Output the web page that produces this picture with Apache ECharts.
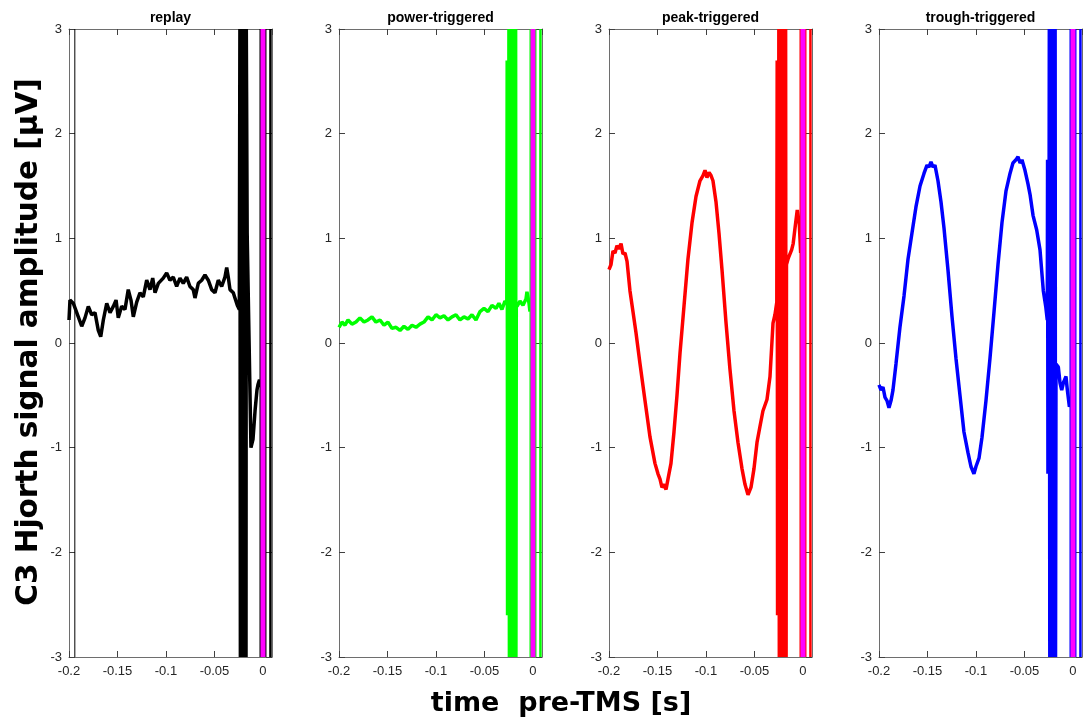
<!DOCTYPE html>
<html><head><meta charset="utf-8">
<script src="https://cdn.jsdelivr.net/npm/echarts@6/dist/echarts.min.js"></script>
<style>html,body{margin:0;padding:0;background:#fff}#c{width:1087px;height:724px}</style>
</head><body><div id="c"></div>
<script>
// ---------- data ----------
const panelTitles = ['replay', 'power-triggered', 'peak-triggered', 'trough-triggered'];
const traceColors = ['#000000', '#00ff00', '#ff0000', '#0000ff'];
const pulseColor = '#ff00ff';
const xTicks = [-0.2, -0.15, -0.1, -0.05, 0];
const yTicks = [-3, -2, -1, 0, 1, 2, 3];
const xMin = -0.2, xMax = 0.0093, yMin = -3, yMax = 3;
const pulseTime = 0;          // TMS pulse marker
const lateArtifactTime = 0.0077;
const replayMarkerTime = -0.194;

// replay (black); artifact samples run off the +-3 scale and are shown at the limits
const replayPre = [[-0.2000,0.22],[-0.1990,0.41],[-0.1956,0.38],[-0.1904,0.25],[-0.1869,0.16],[-0.1835,0.24],[-0.1801,0.35],[-0.1766,0.27],[-0.1732,0.29],[-0.1698,0.12],[-0.1673,0.06],[-0.1646,0.22],[-0.1611,0.38],[-0.1577,0.29],[-0.1543,0.35],[-0.1515,0.41],[-0.1492,0.24],[-0.1457,0.35],[-0.1423,0.32],[-0.1389,0.51],[-0.1361,0.41],[-0.1337,0.25],[-0.1302,0.39],[-0.1268,0.48],[-0.1234,0.44],[-0.1199,0.60],[-0.1165,0.51],[-0.1137,0.62],[-0.1113,0.48],[-0.1079,0.57],[-0.1028,0.62],[-0.0993,0.67],[-0.0959,0.60],[-0.0925,0.63],[-0.0890,0.54],[-0.0856,0.62],[-0.0822,0.57],[-0.0787,0.63],[-0.0753,0.54],[-0.0719,0.51],[-0.0701,0.43],[-0.0667,0.57],[-0.0632,0.60],[-0.0598,0.65],[-0.0564,0.60],[-0.0529,0.51],[-0.0495,0.48],[-0.0461,0.60],[-0.0426,0.54],[-0.0392,0.63],[-0.0374,0.72],[-0.0358,0.63],[-0.0340,0.51],[-0.0306,0.48],[-0.0289,0.43],[-0.0265,0.36],[-0.0244,0.32]];
const replayArtifact = [[-0.0238,3],[-0.0233,-3],[-0.0228,3],[-0.0223,-3],[-0.0218,3],[-0.0213,-3],[-0.0208,3],[-0.0203,-3],[-0.0198,3],[-0.0193,-3],[-0.0188,3],[-0.0183,-3],[-0.0178,3],[-0.0175,-3],[-0.0172,3],[-0.0169,2.4],[-0.0163,1.05]];
const replayPost = [[-0.0124,-1.00],[-0.0103,-0.92],[-0.0082,-0.65],[-0.0062,-0.45],[-0.0052,-0.40],[-0.0036,-0.35],[-0.0026,-0.42],[-0.0021,-0.38]];

// power-triggered (green)
const powerPre = [[-0.2000,0.15],[-0.1969,0.20],[-0.1938,0.17],[-0.1907,0.22],[-0.1866,0.18],[-0.1825,0.20],[-0.1784,0.24],[-0.1742,0.20],[-0.1701,0.22],[-0.1660,0.25],[-0.1619,0.20],[-0.1577,0.22],[-0.1536,0.17],[-0.1495,0.20],[-0.1454,0.14],[-0.1412,0.15],[-0.1371,0.12],[-0.1330,0.16],[-0.1289,0.13],[-0.1247,0.17],[-0.1206,0.15],[-0.1165,0.18],[-0.1124,0.20],[-0.1082,0.25],[-0.1041,0.22],[-0.1000,0.27],[-0.0959,0.24],[-0.0918,0.26],[-0.0876,0.22],[-0.0835,0.25],[-0.0794,0.27],[-0.0753,0.22],[-0.0711,0.25],[-0.0670,0.23],[-0.0629,0.27],[-0.0588,0.22],[-0.0546,0.30],[-0.0505,0.33],[-0.0464,0.30],[-0.0423,0.36],[-0.0381,0.33],[-0.0351,0.38],[-0.0320,0.32],[-0.0289,0.40],[-0.0270,0.38]];
const powerArtifact = [[-0.0266,2.7],[-0.0262,-2.6],[-0.0258,2.7],[-0.0254,-2.6],[-0.0248,3],[-0.0243,-3],[-0.0238,3],[-0.0233,-3],[-0.0228,3],[-0.0223,-3],[-0.0218,3],[-0.0213,-3],[-0.0208,3],[-0.0203,-3],[-0.0198,3],[-0.0193,-3],[-0.0188,3],[-0.0183,-3],[-0.0179,3],[-0.0176,-3],[-0.0172,0.38]];
const powerPost = [[-0.0165,0.35],[-0.0134,0.40],[-0.0103,0.36],[-0.0072,0.42],[-0.0062,0.49],[-0.0041,0.38],[-0.0031,0.30]];

// peak-triggered (red)
const peakPre = [[-0.2000,0.70],[-0.1979,0.75],[-0.1959,0.88],[-0.1938,0.86],[-0.1918,0.93],[-0.1897,0.90],[-0.1876,0.95],[-0.1856,0.85],[-0.1835,0.86],[-0.1814,0.78],[-0.1784,0.50],[-0.1753,0.30],[-0.1722,0.10],[-0.1680,-0.20],[-0.1629,-0.55],[-0.1577,-0.90],[-0.1526,-1.15],[-0.1495,-1.25],[-0.1474,-1.30],[-0.1454,-1.38],[-0.1433,-1.35],[-0.1412,-1.40],[-0.1392,-1.30],[-0.1361,-1.15],[-0.1330,-0.85],[-0.1299,-0.50],[-0.1268,-0.10],[-0.1227,0.35],[-0.1186,0.80],[-0.1144,1.15],[-0.1103,1.40],[-0.1062,1.55],[-0.1031,1.60],[-0.1010,1.65],[-0.0990,1.58],[-0.0969,1.63],[-0.0948,1.60],[-0.0928,1.55],[-0.0897,1.35],[-0.0866,1.05],[-0.0835,0.70],[-0.0794,0.20],[-0.0753,-0.25],[-0.0711,-0.65],[-0.0670,-0.95],[-0.0629,-1.20],[-0.0598,-1.35],[-0.0567,-1.45],[-0.0536,-1.38],[-0.0505,-1.20],[-0.0474,-0.95],[-0.0444,-0.80],[-0.0413,-0.65],[-0.0371,-0.54],[-0.0340,-0.32],[-0.0309,0.19],[-0.0289,0.27],[-0.0270,0.39]];
const peakArtifact = [[-0.0266,2.7],[-0.0262,-2.6],[-0.0258,2.7],[-0.0254,-2.6],[-0.0249,3],[-0.0244,-3],[-0.0239,3],[-0.0234,-3],[-0.0229,3],[-0.0224,-3],[-0.0219,3],[-0.0214,-3],[-0.0209,3],[-0.0204,-3],[-0.0199,3],[-0.0194,-3],[-0.0189,3],[-0.0184,-3],[-0.0179,3],[-0.0174,-3],[-0.0170,0.75]];
const peakPost = [[-0.0152,0.81],[-0.0117,0.89],[-0.0101,0.95],[-0.0082,1.10],[-0.0059,1.27],[-0.0038,1.14],[-0.0024,0.86]];

// trough-triggered (blue)
const troughPre = [[-0.2000,-0.40],[-0.1979,-0.45],[-0.1959,-0.42],[-0.1938,-0.52],[-0.1918,-0.55],[-0.1897,-0.62],[-0.1876,-0.55],[-0.1856,-0.45],[-0.1825,-0.20],[-0.1784,0.15],[-0.1742,0.45],[-0.1701,0.80],[-0.1660,1.05],[-0.1619,1.30],[-0.1577,1.50],[-0.1536,1.62],[-0.1505,1.70],[-0.1485,1.68],[-0.1464,1.73],[-0.1443,1.68],[-0.1423,1.70],[-0.1392,1.55],[-0.1361,1.35],[-0.1330,1.10],[-0.1289,0.70],[-0.1247,0.25],[-0.1206,-0.15],[-0.1165,-0.50],[-0.1124,-0.85],[-0.1082,-1.05],[-0.1052,-1.18],[-0.1021,-1.25],[-0.1000,-1.18],[-0.0969,-1.10],[-0.0938,-0.90],[-0.0897,-0.55],[-0.0856,-0.15],[-0.0814,0.30],[-0.0773,0.75],[-0.0732,1.15],[-0.0691,1.45],[-0.0649,1.62],[-0.0619,1.72],[-0.0588,1.75],[-0.0567,1.78],[-0.0546,1.72],[-0.0526,1.75],[-0.0495,1.65],[-0.0464,1.52],[-0.0443,1.42],[-0.0412,1.22],[-0.0374,1.08],[-0.0340,0.89],[-0.0306,0.50],[-0.0281,0.35],[-0.0265,0.22]];
const troughArtifact = [[-0.0262,1.75],[-0.0258,-1.25],[-0.0254,1.75],[-0.0250,-1.25],[-0.0244,3],[-0.0239,-3],[-0.0234,3],[-0.0229,-3],[-0.0224,3],[-0.0219,-3],[-0.0214,3],[-0.0209,-3],[-0.0204,3],[-0.0199,-3],[-0.0194,3],[-0.0189,-3],[-0.0184,3],[-0.0180,-3],[-0.0175,-0.20]];
const troughPost = [[-0.0168,-0.19],[-0.0151,-0.23],[-0.0134,-0.38],[-0.0116,-0.45],[-0.0099,-0.38],[-0.0072,-0.32],[-0.0058,-0.45],[-0.0037,-0.61],[-0.0025,-0.55]];

const traces = [
  replayPre.concat(replayArtifact, replayPost),
  powerPre.concat(powerArtifact, powerPost),
  peakPre.concat(peakArtifact, peakPost),
  troughPre.concat(troughArtifact, troughPost)
];

// ---------- chart ----------
const chart = echarts.init(document.getElementById('c'), null, {renderer: 'canvas'});
const labelFont = {fontFamily: '"Liberation Sans", Arial, sans-serif', fontSize: 13, color: '#262626'};
const axisLineStyle = {show: true, onZero: false, lineStyle: {color: '#6e6e6e', width: 1}};
const tickStyle = {show: true, inside: true, length: 6, lineStyle: {color: '#404040', width: 1}};

function fmtX(v) {
  const hit = xTicks.find(t => Math.abs(t - v) < 1e-6);
  if (hit === undefined) return '';
  return hit === 0 ? '0' : String(hit);
}
function fmtY(v) {
  const hit = yTicks.find(t => Math.abs(t - v) < 1e-6);
  return hit === undefined ? '' : String(hit);
}

const option = {animation: false, backgroundColor: '#ffffff', grid: [], xAxis: [], yAxis: [], series: [], graphic: []};
const gridTop = 29, gridH = 628, gridW = 203, firstLeft = 69, step = 270;

panelTitles.forEach((title, i) => {
  const left = firstLeft + step * i;
  option.grid.push({left: left, top: gridTop, width: gridW, height: gridH, containLabel: false});
  const baseX = {type: 'value', gridIndex: i, min: xMin, max: xMax, interval: 0.05,
    axisLine: axisLineStyle, axisTick: tickStyle, splitLine: {show: false}};
  option.xAxis.push(Object.assign({}, baseX, {position: 'bottom',
    axisLabel: Object.assign({show: true, margin: 8, formatter: fmtX, showMaxLabel: false, showMinLabel: true}, labelFont)}));
  option.xAxis.push(Object.assign({}, baseX, {position: 'top', axisLabel: {show: false}}));
  const baseY = {type: 'value', gridIndex: i, min: yMin, max: yMax, interval: 1,
    axisLine: axisLineStyle, axisTick: tickStyle, splitLine: {show: false}};
  option.yAxis.push(Object.assign({}, baseY, {position: 'left',
    axisLabel: Object.assign({show: true, margin: 7, formatter: fmtY}, labelFont)}));
  option.yAxis.push(Object.assign({}, baseY, {position: 'right', axisLabel: {show: false}}));

  const xi = 2 * i, yi = 2 * i;
  const color = traceColors[i];
  const vline = (t, c, w, z) => ({type: 'line', xAxisIndex: xi, yAxisIndex: yi, silent: true,
    data: [[t, yMin], [t, yMax]], showSymbol: false, symbol: 'none', z: z,
    lineStyle: {color: c, width: w, cap: 'butt'}});

  option.series.push({type: 'line', xAxisIndex: xi, yAxisIndex: yi, data: traces[i],
    showSymbol: false, symbol: 'none', clip: true, z: 2,
    lineStyle: {color: color, width: 3.5, join: 'bevel', cap: 'butt'}});
  option.series.push(vline(pulseTime, color, 7, 3));
  option.series.push(vline(pulseTime, pulseColor, 5, 4));
  option.series.push(vline(lateArtifactTime, color, 2.5, 3));
  if (i === 0) option.series.push(vline(replayMarkerTime, '#000000', 1, 3));

  option.graphic.push({type: 'text', x: left + gridW / 2, y: 18, silent: true,
    style: {text: title, fill: '#000', align: 'center', verticalAlign: 'middle',
      font: 'bold 14px "Liberation Sans", Arial, sans-serif'}});
});

option.graphic.push({type: 'text', x: 29, y: 342, rotation: Math.PI / 2, silent: true,
  style: {text: 'C3 Hjorth signal amplitude [µV]', fill: '#000', align: 'center', verticalAlign: 'middle',
    font: 'bold 29.5px "DejaVu Sans", sans-serif'}});
option.graphic.push({type: 'text', x: 561, y: 704, silent: true,
  style: {text: 'time  pre-TMS [s]', fill: '#000', align: 'center', verticalAlign: 'middle',
    font: 'bold 27px "DejaVu Sans", sans-serif'}});

chart.setOption(option);
</script>
</body></html>
